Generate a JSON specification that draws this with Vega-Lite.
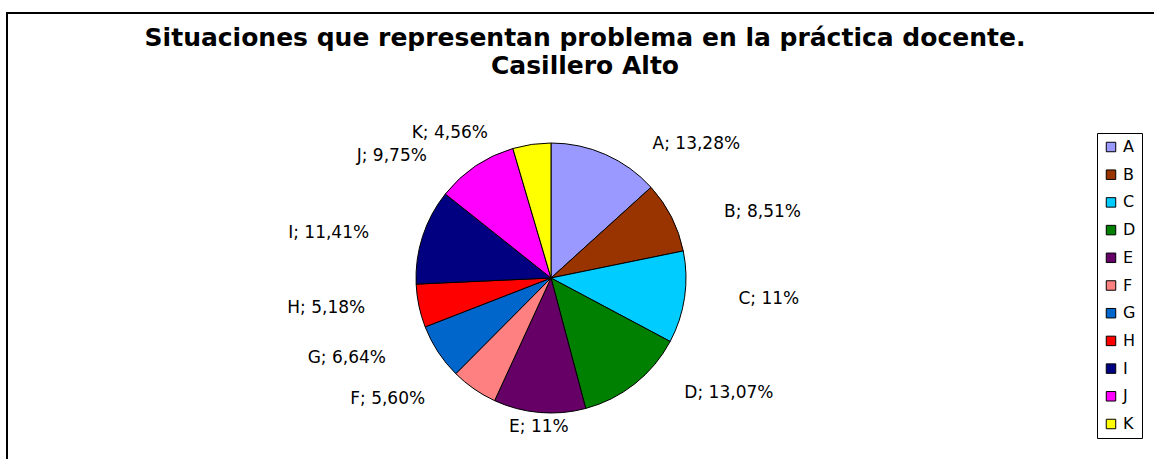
{
  "$schema": "https://vega.github.io/schema/vega-lite/v6.json",
  "autosize": "none",
  "width": 1150,
  "height": 449,
  "padding": {"left": 7, "top": 13, "right": -3, "bottom": -3},
  "background": "white",
  "view": {"stroke": "black", "strokeWidth": 2, "fill": "white"},
  "title": {
    "text": ["Situaciones que representan problema en la práctica docente.", "Casillero Alto"],
    "anchor": "middle",
    "frame": "group",
    "orient": "top",
    "baseline": "top",
    "offset": -66,
    "lineHeight": 28,
    "font": "DejaVu Sans",
    "fontSize": 25,
    "fontWeight": "bold",
    "color": "black",
    "dx": 3
  },
  "data": {
    "values": [
      {"cat": "A", "value": 13.28, "label": "A; 13,28%"},
      {"cat": "B", "value": 8.51, "label": "B; 8,51%"},
      {"cat": "C", "value": 11.0, "label": "C; 11%"},
      {"cat": "D", "value": 13.07, "label": "D; 13,07%"},
      {"cat": "E", "value": 11.0, "label": "E; 11%"},
      {"cat": "F", "value": 5.60, "label": "F; 5,60%"},
      {"cat": "G", "value": 6.64, "label": "G; 6,64%"},
      {"cat": "H", "value": 5.18, "label": "H; 5,18%"},
      {"cat": "I", "value": 11.41, "label": "I; 11,41%"},
      {"cat": "J", "value": 9.75, "label": "J; 9,75%"},
      {"cat": "K", "value": 4.56, "label": "K; 4,56%"}
    ]
  },
  "encoding": {
    "theta": {"field": "value", "type": "quantitative", "stack": true}
  },
  "layer": [
    {
      "mark": {"type": "arc", "outerRadius": 135, "stroke": "black", "strokeWidth": 1, "x": 544, "y": 265},
      "encoding": {
        "color": {
          "field": "cat",
          "type": "nominal",
          "scale": {
            "domain": ["A", "B", "C", "D", "E", "F", "G", "H", "I", "J", "K"],
            "range": ["#9999FF", "#993300", "#00CCFF", "#008000", "#660066", "#FF8080", "#0066CC", "#FF0000", "#000080", "#FF00FF", "#FFFF00"]
          },
          "legend": {
            "title": null,
            "orient": "none",
            "legendX": 1090,
            "legendY": 120,
            "strokeColor": "black",
            "padding": 6,
            "symbolType": "square",
            "symbolSize": 90,
            "symbolStrokeColor": "black",
            "symbolStrokeWidth": 1,
            "labelFont": "DejaVu Sans",
            "labelFontSize": 16,
            "labelColor": "black",
            "labelOffset": 4,
            "rowPadding": 11.7,
            "fillColor": "white"
          }
        }
      }
    },
    {
      "mark": {"type": "text", "radius": 147, "dx": 42, "align": "left", "baseline": "middle", "x": 544, "y": 265, "font": "DejaVu Sans", "fontSize": 17, "color": "black"},
      "encoding": {
        "detail": {"field": "cat", "type": "nominal"},
        "text": {"field": "label", "type": "nominal"},
        "opacity": {"condition": {"test": "indexof(['A','B','C','D'], datum.cat) >= 0", "value": 1}, "value": 0}
      }
    },
    {
      "mark": {"type": "text", "radius": 147, "dx": -42, "align": "right", "baseline": "middle", "x": 544, "y": 265, "font": "DejaVu Sans", "fontSize": 17, "color": "black"},
      "encoding": {
        "detail": {"field": "cat", "type": "nominal"},
        "text": {"field": "label", "type": "nominal"},
        "opacity": {"condition": {"test": "indexof(['F','G','H','I','J','K'], datum.cat) >= 0", "value": 1}, "value": 0}
      }
    },
    {
      "mark": {"type": "text", "radius": 142, "align": "center", "baseline": "top", "x": 544, "y": 265, "font": "DejaVu Sans", "fontSize": 17, "color": "black"},
      "encoding": {
        "detail": {"field": "cat", "type": "nominal"},
        "text": {"field": "label", "type": "nominal"},
        "opacity": {"condition": {"test": "datum.cat === 'E'", "value": 1}, "value": 0}
      }
    }
  ]
}
